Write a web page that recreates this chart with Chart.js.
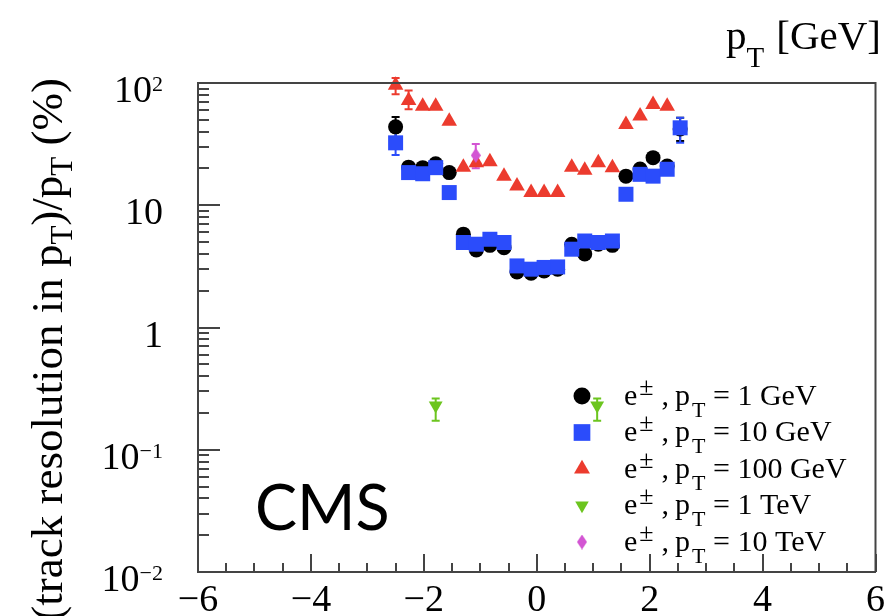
<!DOCTYPE html>
<html>
<head>
<meta charset="utf-8">
<script src="https://cdn.jsdelivr.net/npm/chart.js@4.4.0/dist/chart.umd.min.js"></script>
<style>
  html, body { margin: 0; padding: 0; background: #fff; overflow: hidden; }
  canvas { display: block; }
</style>
</head>
<body>
<canvas id="resChart" width="891" height="616"></canvas>
<script>
// eta bin centres used by the 1, 10 and 100 GeV samples
const etaBins = [-2.50, -2.27, -2.02, -1.79, -1.55, -1.30, -1.07, -0.83, -0.58, -0.35, -0.10,
                 0.13, 0.37, 0.62, 0.85, 1.09, 1.34, 1.58, 1.83, 2.06, 2.31, 2.54];

// resolution in %
const res1GeV   = [43.8, 20.5, 20.3, 21.8, 18.5, 5.8, 4.3, 4.7, 4.5, 2.85, 2.78,
                   2.9, 3.0, 4.8, 4.0, 4.8, 4.7, 17.3, 19.8, 24.5, 20.9, 42];
const res10GeV  = [32.4, 18.5, 18.1, 20.3, 12.7, 4.96, 4.8, 5.27, 4.96, 3.19, 3.0,
                   3.1, 3.13, 4.37, 5.1, 4.96, 5.1, 12.3, 17.9, 17.3, 19.7, 43];
const res100GeV = [96, 72, 64.6, 64.6, 48.7, 20.5, 22.3, 22.7, 17.3, 14.4, 12.7,
                   12.7, 12.7, 20.5, 19.3, 22.3, 20.3, 45.8, 53.6, 66.7, 64.6, null];
const eta1TeV  = [-1.79, 1.07];
const res1TeV  = [0.23, 0.23];
const eta10TeV = [-1.08];
const res10TeV = [25.6];

// error bars that are visible: [eta, low, high]
const bars1GeV   = [[-2.50, 36, 52.6], [2.54, 33.5, 52]];
const bars10GeV  = [[-2.50, 25.8, 40], [2.54, 32.4, 51.9]];
const bars100GeV = [[-2.50, 81, 110], [-2.27, 61, 87]];
const bars1TeV   = [[-1.79, 0.173, 0.262], [1.07, 0.173, 0.262]];
const bars10TeV  = [[-1.08, 20.1, 31.7]];

const legendLabels = ['1 GeV', '10 GeV', '100 GeV', '1 TeV', '10 TeV'];

// y tick labels (decades)
const yDecades = [100, 10, 1, 0.1, 0.01];
const yBase = ['10', '10', '1', '10', '10'];
const yExp  = ['2', '', '', '\u22121', '\u22122'];

const serif = '"Liberation Serif", "Times New Roman", serif';

function diamond(w, h, color) {
  const c = document.createElement('canvas');
  c.width = w; c.height = h;
  const g = c.getContext('2d');
  g.fillStyle = color;
  g.beginPath();
  g.moveTo(w / 2, 0); g.lineTo(w, h / 2); g.lineTo(w / 2, h); g.lineTo(0, h / 2);
  g.closePath();
  g.fill();
  return c;
}

function pts(xs, ys) {
  let out = [];
  xs.forEach((x, i) => { if (ys[i] != null) out.push({x: x, y: ys[i]}) });
  return out;
}

const series = [
  {data: pts(etaBins, res1GeV),   color: '#000000', style: 'circle',   r: 7.5, rot: 0,   lr: 8.5, bars: bars1GeV,   order: 5},
  {data: pts(etaBins, res10GeV),  color: '#2b4cfb', style: 'rect',     r: 10.6, rot: 0,  lr: 11.8, bars: bars10GeV, order: 4},
  {data: pts(etaBins, res100GeV), color: '#ec3b2e', style: 'triangle', r: 9,   rot: 0,   lr: 9.2, bars: bars100GeV, order: 3},
  {data: pts(eta1TeV, res1TeV),   color: '#6cc51f', style: 'triangle', r: 8,   rot: 180, lr: 7.8, bars: bars1TeV,   order: 2},
  {data: pts(eta10TeV, res10TeV), color: '#d355d3', style: diamond(10, 15, '#d355d3'), r: 6, rot: 0, lr: 6, bars: bars10TeV, order: 1}
];

function drawRich(ctx, parts, x, y) {
  parts.forEach(p => {
    ctx.font = p.s + 'px ' + serif;
    ctx.fillText(p.t, x, y + (p.dy || 0));
    x += ctx.measureText(p.t).width + (p.gap || 0);
  });
}
function richWidth(ctx, parts) {
  let w = 0;
  parts.forEach(p => {
    ctx.font = p.s + 'px ' + serif;
    w += ctx.measureText(p.t).width + (p.gap || 0);
  });
  return w;
}

const errorBars = {
  id: 'errorBars',
  beforeDatasetsDraw(chart) {
    const ctx = chart.ctx, xs = chart.scales.x, ys = chart.scales.y;
    ctx.save();
    ctx.lineWidth = 2;
    series.forEach(s => {
      ctx.strokeStyle = s.color;
      s.bars.forEach(b => {
        const px = xs.getPixelForValue(b[0]);
        const lo = ys.getPixelForValue(b[1]), hi = ys.getPixelForValue(b[2]);
        ctx.beginPath();
        ctx.moveTo(px, lo); ctx.lineTo(px, hi);
        ctx.moveTo(px - 4, lo); ctx.lineTo(px + 4, lo);
        ctx.moveTo(px - 4, hi); ctx.lineTo(px + 4, hi);
        ctx.stroke();
      });
    });
    ctx.restore();
  }
};

const decorations = {
  id: 'decorations',
  afterDraw(chart) {
    const ctx = chart.ctx, a = chart.chartArea;
    const xs = chart.scales.x, ys = chart.scales.y;
    ctx.save();
    // top and right frame
    ctx.strokeStyle = '#444';
    ctx.lineWidth = 2;
    ctx.beginPath();
    ctx.moveTo(a.left, a.top); ctx.lineTo(a.right, a.top); ctx.lineTo(a.right, a.bottom);
    ctx.stroke();

    // x ticks, inside the frame
    ctx.beginPath();
    for (let v = -6; v <= 6.001; v += 0.5) {
      const px = Math.round(xs.getPixelForValue(v));
      const len = Math.abs(v % 2) < 1e-6 ? 18 : 9;
      ctx.moveTo(px, a.bottom); ctx.lineTo(px, a.bottom - len);
    }
    // y ticks
    for (let d = 0.01; d < 100; d *= 10) {
      for (let k = 1; k <= 9; k++) {
        const py = Math.round(ys.getPixelForValue(k * d));
        const len = k == 1 ? 22 : 11;
        ctx.moveTo(a.left, py); ctx.lineTo(a.left + len, py);
      }
    }
    ctx.stroke();

    // y tick labels
    ctx.fillStyle = '#000';
    ctx.textBaseline = 'alphabetic';
    yDecades.forEach((v, i) => {
      const py = ys.getPixelForValue(v);
      const right = 163;
      ctx.font = '22px ' + serif;
      const we = yExp[i] ? ctx.measureText(yExp[i]).width : 0;
      ctx.textAlign = 'right';
      ctx.font = '38px ' + serif;
      ctx.fillText(yBase[i], right - we, py + 19);
      if (yExp[i]) {
        ctx.textAlign = 'left';
        ctx.font = '22px ' + serif;
        ctx.fillText(yExp[i], right - we, py + 8);
      }
    });
    ctx.textAlign = 'left';

    // axis title at top right: pT [GeV]
    const top = [{t: 'p', s: 41}, {t: 'T', s: 29, dy: 18, gap: 12}, {t: '[GeV]', s: 41}];
    drawRich(ctx, top, 881 - richWidth(ctx, top), 49);

    // y axis title, rotated
    const yt = [{t: '(track resolution in p', s: 45}, {t: 'T', s: 31, dy: 10},
                {t: ')/p', s: 45}, {t: 'T', s: 31, dy: 10}, {t: ' (%)', s: 45}];
    ctx.save();
    ctx.translate(62, 78);
    ctx.rotate(-Math.PI / 2);
    drawRich(ctx, yt, -richWidth(ctx, yt), 0);
    ctx.restore();

    // legend
    series.forEach((s, i) => {
      const y = 396 + i * 36.5;
      ctx.fillStyle = s.color;
      Chart.helpers.drawPoint(ctx, {pointStyle: s.style, radius: s.lr, rotation: s.rot, borderWidth: 0}, 582, y);
      ctx.fillStyle = '#000';
      drawRich(ctx, [
        {t: 'e', s: 30, gap: 2},
        {t: '\u00b1', s: 26, dy: -10, gap: 8},
        {t: ',', s: 30, gap: 6},
        {t: 'p', s: 30, gap: 2},
        {t: 'T', s: 22, dy: 12},
        {t: ' = ' + legendLabels[i], s: 30}
      ], 624, y + 8.5);
    });

    // CMS label
    ctx.fillStyle = '#000';
    ctx.font = '400 63px Lato, "Noto Sans", sans-serif';
    ctx.fillText('CMS', 255, 530);
    ctx.restore();
  }
};

new Chart(document.getElementById('resChart'), {
  type: 'scatter',
  data: {
    datasets: series.map(s => ({
      data: s.data,
      pointStyle: s.style,
      pointRadius: s.r,
      pointRotation: s.rot,
      backgroundColor: s.color,
      pointBackgroundColor: s.color,
      pointBorderWidth: 0,
      clip: false,
      order: s.order
    }))
  },
  options: {
    responsive: false,
    animation: false,
    devicePixelRatio: 1,
    layout: {padding: {top: 83, right: 11, left: 0, bottom: 0}},
    plugins: {legend: {display: false}, tooltip: {enabled: false}},
    scales: {
      x: {
        type: 'linear',
        min: -6,
        max: 6,
        grid: {display: false, drawTicks: false},
        border: {display: true, color: '#444', width: 2},
        ticks: {
          stepSize: 2,
          autoSkip: false,
          maxRotation: 0,
          padding: 6,
          color: '#000',
          font: {family: serif, size: 38},
          callback: v => v < 0 ? '\u2212' + (-v) : String(v)
        },
        afterFit: s => { s.height = 44 }
      },
      y: {
        type: 'logarithmic',
        min: 0.01,
        max: 100,
        grid: {display: false, drawTicks: false},
        border: {display: true, color: '#444', width: 2},
        ticks: {display: false},
        afterFit: s => { s.width = 198 }
      }
    }
  },
  plugins: [errorBars, decorations]
});
</script>
</body>
</html>
